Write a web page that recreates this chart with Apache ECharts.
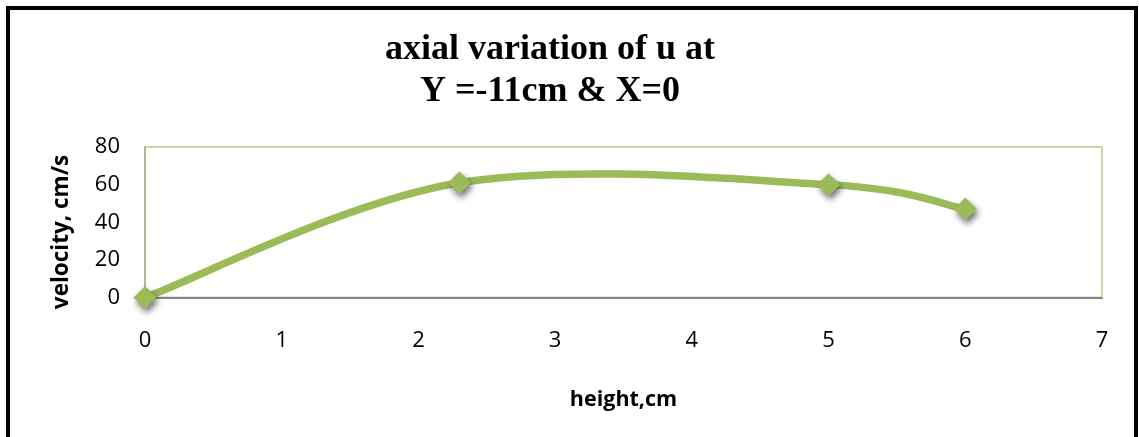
<!DOCTYPE html>
<html>
<head>
<meta charset="utf-8">
<script src="https://cdn.jsdelivr.net/npm/echarts@6/dist/echarts.min.js"></script>
<style>
  html, body { margin: 0; padding: 0; background: #fff; }
  #chart { width: 1139px; height: 437px; }
</style>
</head>
<body>
<div id="chart"></div>
<script>
// Axial velocity profile
const heights = [0, 2.3, 5, 6];          // height, cm
const velocities = [0, 61, 60, 47];      // velocity, cm/s
const xTicks = [0, 1, 2, 3, 4, 5, 6, 7];
const yTicks = [0, 20, 40, 60, 80];
const titleLines = ['axial variation of u at', 'Y =-11cm & X=0'];
const xTitle = 'height,cm';
const yTitle = 'velocity, cm/s';

const chart = echarts.init(document.getElementById('chart'), null, { renderer: 'canvas' });

const labelFont = '"Open Sans", "Liberation Sans", sans-serif';
const titleFont = 'bold 36px "Liberation Serif", "Times New Roman", serif';
const green = '#9bbb59';

// Smoothed curve through the points: cubic Bezier segments whose control
// points follow the Catmull-Rom rule (tangent = (next - prev) / 6).
function renderCurve(params, api) {
  const pts = heights.map((h, i) => api.coord([h, velocities[i]]));
  const n = pts.length;
  let d = 'M' + pts[0][0] + ' ' + pts[0][1];
  for (let i = 0; i < n - 1; i++) {
    const p0 = pts[Math.max(i - 1, 0)];
    const p1 = pts[i];
    const p2 = pts[i + 1];
    const p3 = pts[Math.min(i + 2, n - 1)];
    const c1 = [p1[0] + (p2[0] - p0[0]) / 6, p1[1] + (p2[1] - p0[1]) / 6];
    const c2 = [p2[0] - (p3[0] - p1[0]) / 6, p2[1] - (p3[1] - p1[1]) / 6];
    d += ' C' + c1[0] + ' ' + c1[1] + ' ' + c2[0] + ' ' + c2[1] + ' ' + p2[0] + ' ' + p2[1];
  }
  return {
    type: 'path',
    shape: { pathData: d },
    style: { fill: 'none', stroke: green, lineWidth: 7.5, lineCap: 'round', lineJoin: 'round' }
  };
}

chart.setOption({
  animation: false,
  backgroundColor: '#ffffff',
  grid: {
    left: 145, right: 37, top: 147, bottom: 139.5,
    show: true,
    borderColor: '#c6d9a0',
    borderWidth: 2,
    backgroundColor: 'transparent'
  },
  xAxis: {
    type: 'value',
    min: xTicks[0], max: xTicks[xTicks.length - 1], interval: 1,
    axisLine: { show: true, onZero: false, lineStyle: { color: '#868686', width: 2 } },
    axisTick: { show: false },
    splitLine: { show: false },
    axisLabel: { color: '#000', fontFamily: labelFont, fontSize: 22, margin: 32 },
    name: xTitle,
    nameLocation: 'middle',
    nameGap: 91,
    nameTextStyle: { color: '#000', fontFamily: labelFont, fontSize: 21.5, fontWeight: 'bold' }
  },
  yAxis: {
    type: 'value',
    min: yTicks[0], max: yTicks[yTicks.length - 1], interval: 20,
    axisLine: { show: true, lineStyle: { color: '#a3ab96', width: 1.5 } },
    axisTick: { show: false },
    splitLine: { show: false },
    axisLabel: { color: '#000', fontFamily: labelFont, fontSize: 22, margin: 25 }
  },
  series: [
    {
      type: 'custom',
      data: [[0, 0]],
      renderItem: renderCurve,
      clip: false,
      silent: true,
      z: 2
    },
    {
      type: 'scatter',
      data: heights.map((h, i) => [h, velocities[i]]),
      symbol: 'diamond',
      symbolSize: 23,
      itemStyle: {
        color: green,
        opacity: 1,
        shadowColor: 'rgba(0,0,0,0.55)',
        shadowBlur: 6,
        shadowOffsetX: 2,
        shadowOffsetY: 4
      },
      z: 3
    }
  ],
  graphic: [
    {
      type: 'rect',
      shape: { x: 8, y: 8, width: 1128, height: 520 },
      style: { fill: 'none', stroke: '#000', lineWidth: 4 },
      silent: true
    },
    {
      type: 'text',
      x: 550, y: 50,
      style: {
        text: titleLines[0], font: titleFont, fill: '#000',
        textAlign: 'center', textVerticalAlign: 'middle'
      }
    },
    {
      type: 'text',
      x: 550, y: 92,
      style: {
        text: titleLines[1], font: titleFont, fill: '#000',
        textAlign: 'center', textVerticalAlign: 'middle'
      }
    },
    {
      type: 'text',
      x: 62, y: 232,
      rotation: Math.PI / 2,
      style: {
        text: yTitle,
        font: 'bold 22.5px "Open Sans", "Liberation Sans", sans-serif',
        fill: '#000',
        textAlign: 'center', textVerticalAlign: 'middle'
      }
    }
  ]
});
</script>
</body>
</html>
